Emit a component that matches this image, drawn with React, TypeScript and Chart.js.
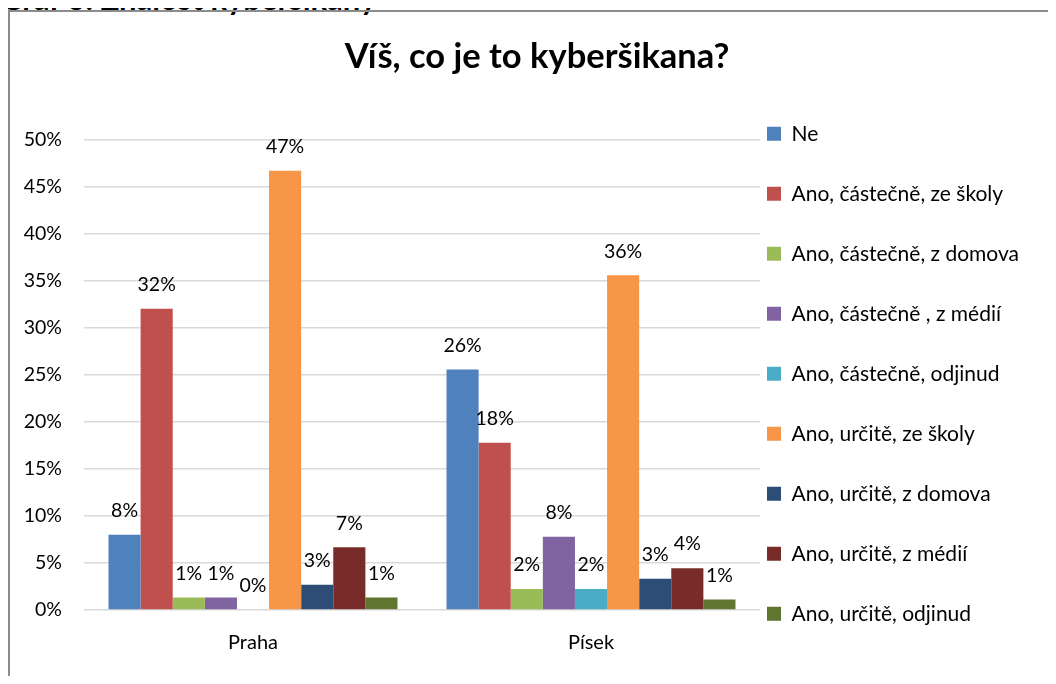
import React, { useEffect, useRef } from "react";
import { Chart, registerables } from "chart.js";

Chart.register(...registerables);

const categories = ["Praha", "Písek"];
const seriesNames = [
  "Ne",
  "Ano, částečně, ze školy",
  "Ano, částečně, z domova",
  "Ano, částečně , z médií",
  "Ano, částečně, odjinud",
  "Ano, určitě, ze školy",
  "Ano, určitě, z domova",
  "Ano, určitě, z médií",
  "Ano, určitě, odjinud",
];
const ne = [8.0, 25.56];
const castecneSkola = [32.0, 17.78];
const castecneDomov = [1.33, 2.22];
const castecneMedia = [1.33, 7.78];
const castecneOdjinud = [0.0, 2.22];
const urciteSkola = [46.67, 35.56];
const urciteDomov = [2.67, 3.33];
const urciteMedia = [6.67, 4.44];
const urciteOdjinud = [1.33, 1.11];
const seriesValues = [
  ne,
  castecneSkola,
  castecneDomov,
  castecneMedia,
  castecneOdjinud,
  urciteSkola,
  urciteDomov,
  urciteMedia,
  urciteOdjinud,
];
const colors = [
  "#4F81BD",
  "#C0504D",
  "#9BBB59",
  "#8064A2",
  "#4BACC6",
  "#F79646",
  "#2C4D75",
  "#772C2A",
  "#5F7530",
];
const yTicks = { min: 0, max: 50, step: 5 };
const titleText = "Víš, co je to kyberšikana?";
const headerText = "Graf 6: Znalost kyberšikany";

const FONT = "Lato, 'Noto Sans', sans-serif";
const CANVAS_W = 1046;
const CANVAS_H = 672;
const LEGEND_FONT = 21;
const LEGEND_PAD = 60 - LEGEND_FONT;

const labelPlugin = {
  id: "valueLabels",
  afterDatasetsDraw(chart: any) {
    const ctx = chart.ctx;
    ctx.save();
    ctx.font = `19.5px ${FONT}`;
    ctx.fillStyle = "#000";
    ctx.textAlign = "center";
    ctx.textBaseline = "middle";
    chart.data.datasets.forEach((ds: any, di: number) => {
      const meta = chart.getDatasetMeta(di);
      meta.data.forEach((bar: any, i: number) => {
        const v = ds.data[i];
        ctx.fillText(`${Math.round(v)}%`, bar.x, bar.y - 24);
      });
    });
    ctx.restore();
  },
};

const boxShift = {
  id: "boxShift",
  afterLayout(chart: any) {
    const lg = chart.legend;
    if (lg) {
      lg.left = 757 - LEGEND_PAD;
      lg.right = CANVAS_W;
      lg.width = lg.right - lg.left;
      lg.top = 121.8 - LEGEND_FONT / 2 - LEGEND_PAD;
      lg.bottom = CANVAS_H;
      lg.height = lg.bottom - lg.top;
    }
    const tb = chart.titleBlock;
    if (tb) {
      const center = 527;
      const half = 480;
      tb.left = center - half;
      tb.right = center + half;
      tb.width = half * 2;
    }
  },
};

export default function App() {
  const ref = useRef<HTMLCanvasElement | null>(null);
  useEffect(() => {
    document.documentElement.style.overflow = "hidden";
    if (!ref.current) return;
    const chart = new Chart(ref.current, {
      type: "bar",
      data: {
        labels: categories,
        datasets: seriesNames.map((name, i) => ({
          label: name,
          data: seriesValues[i],
          backgroundColor: colors[i],
          borderWidth: 0,
          categoryPercentage: 0.855,
          barPercentage: 1,
        })),
      },
      options: {
        responsive: false,
        animation: false,
        devicePixelRatio: 1,
        layout: { padding: { left: 0, right: 46, top: 0, bottom: 0 } },
        plugins: {
          tooltip: { enabled: false },
          title: {
            display: true,
            text: titleText,
            color: "#000",
            font: { family: FONT, size: 34.5, weight: "bold" },
            padding: { top: 24, bottom: 62 },
          },
          legend: {
            position: "right",
            align: "start",
            labels: {
              color: "#000",
              font: { family: FONT, size: LEGEND_FONT },
              boxWidth: 14,
              boxHeight: 14,
              padding: LEGEND_PAD,
            },
          },
        },
        scales: {
          x: {
            grid: { display: false },
            border: { display: false },
            ticks: {
              color: "#000",
              font: { family: FONT, size: 20 },
              padding: 13,
            },
            afterFit(scale: any) {
              scale.height = 74;
            },
          },
          y: {
            min: yTicks.min,
            max: yTicks.max,
            grid: { color: "#D9D9D9", lineWidth: 1.5, drawTicks: false },
            border: { display: false },
            ticks: {
              stepSize: yTicks.step,
              color: "#000",
              font: { family: FONT, size: 19.5 },
              padding: 22,
              callback: (v: any) => `${v}%`,
            },
            afterFit(scale: any) {
              scale.width = 74;
            },
          },
        },
      },
      plugins: [labelPlugin, boxShift],
    });
    return () => chart.destroy();
  }, []);

  return (
    <div
      style={{
        position: "relative",
        margin: "-8px",
        width: 1056,
        height: 684,
        overflow: "hidden",
        background: "#fff",
      }}
    >
      <div
        style={{
          position: "absolute",
          left: 0,
          top: -17,
          fontFamily: FONT,
          fontWeight: "bold",
          fontSize: 31,
          lineHeight: "31px",
          whiteSpace: "nowrap",
          color: "#000",
        }}
      >
        {headerText}
      </div>
      <div
        style={{
          position: "absolute",
          left: 8,
          top: 10,
          width: 1100,
          height: 700,
          border: "2px solid #8C8C8C",
          boxSizing: "border-box",
        }}
      />
      <canvas
        ref={ref}
        width={CANVAS_W}
        height={CANVAS_H}
        style={{ position: "absolute", left: 10, top: 12 }}
      />
    </div>
  );
}
